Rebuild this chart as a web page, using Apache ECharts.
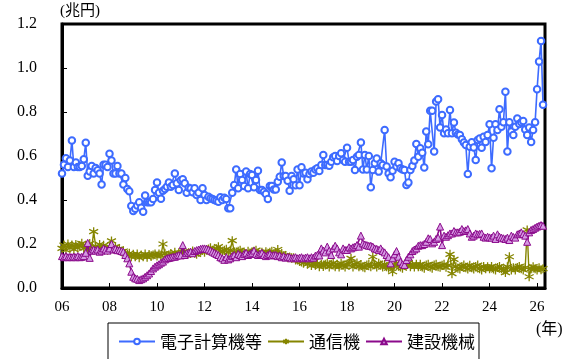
<!DOCTYPE html>
<html>
<head>
<meta charset="utf-8">
<script src="https://cdn.jsdelivr.net/npm/echarts@6/dist/echarts.min.js"></script>
<style>
  html, body { margin: 0; padding: 0; background: #ffffff; }
  #chart { width: 567px; height: 359px; }
</style>
</head>
<body>
<div id="chart"></div>
<script>
// Monthly values, trillion yen, from January 2006
const startYear = 2006;
const axisMonths = 245;           // x axis runs Jan 2006 .. May 2026
const yTicks = [0, 0.2, 0.4, 0.6, 0.8, 1.0, 1.2];
const seriesNames = ['電子計算機等', '通信機', '建設機械'];

const computers = [
  0.52, 0.56, 0.59, 0.55, 0.58, 0.67, 0.55, 0.57, 0.55, 0.55, 0.555, 0.585,
  0.66, 0.51, 0.53, 0.555, 0.52, 0.545, 0.535, 0.52, 0.47, 0.56, 0.56, 0.55,
  0.61, 0.58, 0.52, 0.52, 0.555, 0.52, 0.52, 0.47, 0.50, 0.45, 0.44, 0.373,
  0.35, 0.36, 0.375, 0.39, 0.365, 0.347, 0.42, 0.39, 0.39, 0.39, 0.405, 0.445,
  0.48, 0.433, 0.406, 0.442, 0.45, 0.46, 0.48, 0.46, 0.468, 0.52, 0.476, 0.445,
  0.49, 0.494, 0.476, 0.433, 0.456, 0.452, 0.435, 0.453, 0.423, 0.433, 0.40, 0.453,
  0.423, 0.40, 0.415, 0.408, 0.405, 0.40, 0.397, 0.392, 0.412, 0.40, 0.41, 0.405,
  0.362, 0.362, 0.433, 0.468, 0.539, 0.453, 0.518, 0.491, 0.464, 0.529, 0.453, 0.518,
  0.514, 0.458, 0.491, 0.533, 0.445, 0.445, 0.438, 0.427, 0.405, 0.464, 0.464, 0.448,
  0.448, 0.483, 0.506, 0.57, 0.509, 0.509, 0.488, 0.442, 0.509, 0.494, 0.467, 0.539,
  0.467, 0.549, 0.521, 0.524, 0.494, 0.518, 0.529, 0.524, 0.539, 0.544, 0.532, 0.559,
  0.605, 0.559, 0.559, 0.556, 0.574, 0.594, 0.60, 0.577, 0.60, 0.612, 0.582, 0.574,
  0.638, 0.574, 0.574, 0.582, 0.536, 0.597, 0.605, 0.661, 0.539, 0.605, 0.539, 0.60,
  0.458, 0.536, 0.567, 0.589, 0.529, 0.567, 0.559, 0.718, 0.552, 0.521, 0.503, 0.533,
  0.574, 0.552, 0.567, 0.544, 0.539, 0.536, 0.468, 0.479, 0.536, 0.555, 0.579, 0.655,
  0.597, 0.635, 0.615, 0.548, 0.711, 0.653, 0.806, 0.806, 0.62, 0.848, 0.858, 0.73,
  0.786, 0.703, 0.72, 0.703, 0.809, 0.703, 0.752, 0.706, 0.698, 0.695, 0.676, 0.661,
  0.65, 0.518, 0.642, 0.662, 0.639, 0.582, 0.673, 0.68, 0.638, 0.688, 0.664, 0.695,
  0.744, 0.544, 0.683, 0.744, 0.718, 0.812, 0.733, 0.753, 0.892, 0.62, 0.753, 0.711,
  0.695, 0.733, 0.77, 0.745, 0.753, 0.759, 0.721, 0.695, 0.729, 0.664, 0.718, 0.753,
  0.903, 1.029, 1.123, 0.833
];

const telecom = [
  0.18, 0.195, 0.172, 0.20, 0.182, 0.196, 0.175, 0.198, 0.182, 0.193, 0.203, 0.18,
  0.192, 0.176, 0.202, 0.18, 0.256, 0.19, 0.175, 0.198, 0.182, 0.194, 0.176, 0.172,
  0.188, 0.214, 0.178, 0.188, 0.176, 0.178, 0.166, 0.168, 0.156, 0.152, 0.158, 0.142,
  0.153, 0.142, 0.155, 0.138, 0.15, 0.142, 0.154, 0.14, 0.152, 0.143, 0.15, 0.155,
  0.146, 0.155, 0.147, 0.20, 0.158, 0.147, 0.15, 0.157, 0.148, 0.162, 0.15, 0.16,
  0.153, 0.162, 0.168, 0.155, 0.158, 0.157, 0.168, 0.158, 0.153, 0.163, 0.167, 0.172,
  0.163, 0.172, 0.177, 0.183, 0.172, 0.168, 0.178, 0.188, 0.168, 0.163, 0.172, 0.176,
  0.162, 0.172, 0.215, 0.163, 0.158, 0.167, 0.172, 0.162, 0.158, 0.155, 0.167, 0.158,
  0.162, 0.167, 0.172, 0.157, 0.153, 0.162, 0.155, 0.165, 0.152, 0.162, 0.167, 0.155,
  0.157, 0.175, 0.148, 0.157, 0.147, 0.148, 0.137, 0.14, 0.137, 0.138, 0.127, 0.13,
  0.122, 0.118, 0.113, 0.122, 0.108, 0.117, 0.102, 0.113, 0.103, 0.112, 0.097, 0.108,
  0.098, 0.108, 0.113, 0.096, 0.108, 0.114, 0.097, 0.108, 0.096, 0.113, 0.104, 0.095,
  0.108, 0.113, 0.135, 0.096, 0.108, 0.114, 0.097, 0.107, 0.095, 0.092, 0.104, 0.108,
  0.097, 0.142, 0.108, 0.096, 0.113, 0.104, 0.095, 0.108, 0.097, 0.09, 0.103, 0.074,
  0.103, 0.113, 0.102, 0.096, 0.09, 0.104, 0.108, 0.114, 0.097, 0.108, 0.096, 0.108,
  0.097, 0.108, 0.096, 0.09, 0.104, 0.108, 0.096, 0.09, 0.104, 0.108, 0.097, 0.094,
  0.103, 0.108, 0.094, 0.103, 0.153, 0.065, 0.13, 0.097, 0.09, 0.086, 0.098, 0.104,
  0.092, 0.086, 0.103, 0.092, 0.086, 0.098, 0.104, 0.087, 0.082, 0.098, 0.087, 0.097,
  0.087, 0.098, 0.086, 0.082, 0.093, 0.098, 0.087, 0.082, 0.07, 0.097, 0.142, 0.082,
  0.092, 0.082, 0.093, 0.098, 0.087, 0.082, 0.093, 0.264, 0.051, 0.088, 0.097, 0.087,
  0.082, 0.092, 0.083, 0.088
];

const construction = [
  0.145, 0.14, 0.145, 0.14, 0.142, 0.14, 0.143, 0.14, 0.145, 0.14, 0.142, 0.145,
  0.16, 0.205, 0.137, 0.17, 0.175, 0.17, 0.175, 0.165, 0.17, 0.18, 0.175, 0.17,
  0.18, 0.20, 0.175, 0.178, 0.172, 0.172, 0.168, 0.165, 0.15, 0.135, 0.112, 0.074,
  0.051, 0.044, 0.042, 0.036, 0.04, 0.044, 0.051, 0.058, 0.066, 0.077, 0.089, 0.097,
  0.103, 0.108, 0.115, 0.12, 0.13, 0.135, 0.137, 0.139, 0.142, 0.142, 0.147, 0.15,
  0.148, 0.195, 0.15, 0.158, 0.16, 0.165, 0.158, 0.168, 0.172, 0.175, 0.178, 0.18,
  0.18, 0.178, 0.175, 0.17, 0.165, 0.16, 0.155, 0.15, 0.14, 0.135, 0.128, 0.14,
  0.13, 0.135, 0.145, 0.15, 0.14, 0.155, 0.15, 0.145, 0.155, 0.16, 0.15, 0.155,
  0.16, 0.17, 0.155, 0.15, 0.155, 0.16, 0.15, 0.145, 0.15, 0.155, 0.148, 0.15,
  0.15, 0.145, 0.148, 0.14, 0.145, 0.138, 0.142, 0.14, 0.135, 0.138, 0.14, 0.135,
  0.138, 0.14, 0.135, 0.138, 0.14, 0.135, 0.14, 0.138, 0.147, 0.15, 0.148, 0.18,
  0.17, 0.162, 0.188, 0.17, 0.15, 0.18, 0.192, 0.18, 0.162, 0.153, 0.18, 0.173,
  0.173, 0.185, 0.18, 0.185, 0.188, 0.195, 0.188, 0.238, 0.203, 0.198, 0.195, 0.192,
  0.192, 0.188, 0.18, 0.178, 0.173, 0.18, 0.168, 0.162, 0.15, 0.14, 0.112, 0.135,
  0.153, 0.168, 0.142, 0.12, 0.108, 0.105, 0.127, 0.142, 0.153, 0.168, 0.175, 0.18,
  0.192, 0.195, 0.195, 0.20, 0.21, 0.226, 0.223, 0.203, 0.21, 0.223, 0.229, 0.279,
  0.195, 0.238, 0.233, 0.24, 0.248, 0.248, 0.259, 0.253, 0.253, 0.256, 0.268, 0.259,
  0.262, 0.268, 0.248, 0.233, 0.238, 0.248, 0.244, 0.246, 0.248, 0.233, 0.229, 0.233,
  0.23, 0.229, 0.238, 0.223, 0.244, 0.233, 0.229, 0.226, 0.223, 0.229, 0.218, 0.238,
  0.232, 0.229, 0.244, 0.248, 0.253, 0.245, 0.238, 0.21, 0.253, 0.264, 0.268, 0.274,
  0.279, 0.283, 0.286, 0.283
];

// Category labels: one per month
const months = [];
for (let i = 0; i < axisMonths; i++) {
  const y = startYear + Math.floor(i / 12);
  months.push(y + '-' + String((i % 12) + 1).padStart(2, '0'));
}
const isTickMonth = (index) => index % 24 === 0;

const serif = "'Liberation Serif', 'Noto Sans CJK JP', serif";
const cjk = "'Noto Sans CJK JP', sans-serif";

const asterisk = 'path://M5,0L5,10M0.67,2.5L9.33,7.5M9.33,2.5L0.67,7.5';

const chart = echarts.init(document.getElementById('chart'), null, { renderer: 'canvas' });
chart.setOption({
  animation: false,
  backgroundColor: '#ffffff',
  grid: {
    left: 62, right: 22, top: 24, bottom: 71,
    show: true, borderColor: '#000', borderWidth: 3,
    containLabel: false
  },
  graphic: [
    { type: 'text', left: 60, top: 4,
      style: { text: '(兆円)', font: '15px ' + serif, fill: '#000' } },
    { type: 'text', left: 536, top: 322,
      style: { text: '(年)', font: '16px ' + serif, fill: '#000' } }
  ],
  legend: {
    data: seriesNames,
    left: 108, top: 323,
    itemWidth: 36, itemHeight: 7,
    itemGap: 5,
    padding: [10, 4, 40, 10],
    borderColor: '#000', borderWidth: 1,
    textStyle: { fontFamily: cjk, fontSize: 17, color: '#000' }
  },
  xAxis: {
    type: 'category',
    data: months,
    boundaryGap: false,
    axisLine: { lineStyle: { color: '#000', width: 3 } },
    axisTick: { inside: true, length: 5, interval: isTickMonth, lineStyle: { color: '#000', width: 1 } },
    axisLabel: {
      interval: isTickMonth, margin: 12,
      fontFamily: serif, fontSize: 15, color: '#000',
      formatter: (v) => v.slice(2, 4)
    },
    splitLine: { show: false }
  },
  yAxis: {
    type: 'value',
    min: yTicks[0], max: yTicks[yTicks.length - 1], interval: 0.2,
    axisLine: { show: true, lineStyle: { color: '#000', width: 3 } },
    axisTick: { show: true, inside: true, length: 5, lineStyle: { color: '#000', width: 1 } },
    axisLabel: {
      margin: 25, fontFamily: serif, fontSize: 16, color: '#000',
      padding: [5, 0, 0, 0],
      formatter: (v) => v.toFixed(1)
    },
    splitLine: { show: false }
  },
  series: [
    {
      name: seriesNames[0], type: 'line', data: computers,
      showAllSymbol: true, symbol: 'emptyCircle', symbolSize: 6.5,
      lineStyle: { color: '#3d6bff', width: 1.6 },
      itemStyle: { color: '#3d6bff', borderColor: '#3d6bff', borderWidth: 1.2 },
      z: 4
    },
    {
      name: seriesNames[1], type: 'line', data: telecom,
      showAllSymbol: true, symbol: asterisk, symbolSize: 9,
      lineStyle: { color: '#858500', width: 1.4 },
      itemStyle: { color: 'rgba(0,0,0,0)', borderColor: '#858500', borderWidth: 1.3 },
      z: 2
    },
    {
      name: seriesNames[2], type: 'line', data: construction,
      showAllSymbol: true, symbol: 'triangle', symbolSize: 7,
      lineStyle: { color: '#8b0a8b', width: 1.6 },
      itemStyle: { color: '#d59ae3', borderColor: '#8b0a8b', borderWidth: 1 },
      z: 3
    }
  ]
});
</script>
</body>
</html>
